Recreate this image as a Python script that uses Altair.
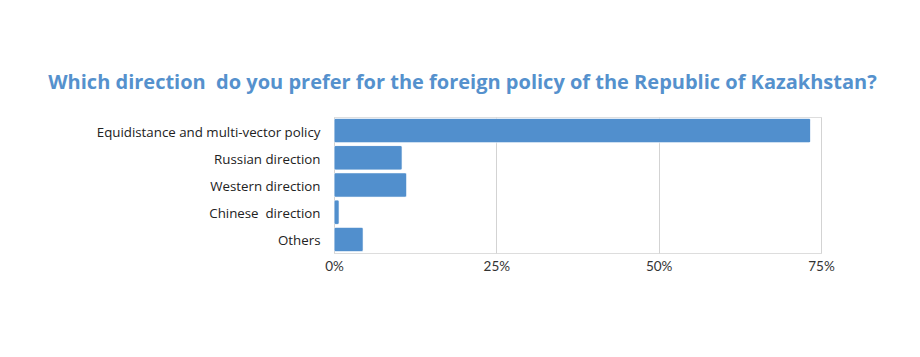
import altair as alt
import pandas as pd

categories = [
    "Equidistance and multi-vector policy",
    "Russian direction\u00a0",
    "Western direction",
    "Chinese \u00a0direction",
    "Others",
]
shares = [73.4, 10.5, 11.2, 0.8, 4.5]
tick_values = [0, 25, 50, 75]
title_text = "Which direction \u00a0do you prefer for the foreign policy of the Republic of Kazakhstan?"

df = pd.DataFrame({"category": categories, "share": shares})

chart = (
    alt.Chart(df, title=alt.TitleParams(
        title_text, font="Open Sans", fontSize=20, fontWeight="bold",
        color="#5591cd", anchor="middle", dx=-115, offset=8, baseline="alphabetic"))
    .mark_bar(color="#518fcd", cornerRadius=2, stroke="white", strokeWidth=0.5)
    .encode(
        x=alt.X("share:Q",
                scale=alt.Scale(domain=[0, 75], nice=False),
                axis=alt.Axis(values=tick_values, labelExpr="datum.value + '%'",
                              title=None, domain=False, ticks=False, labelFlush=False,
                              grid=True, gridColor="#d3d3d3", gridWidth=1,
                              labelFont="Lato", labelFontSize=13.5, labelColor="#333333",
                              labelPadding=6)),
        y=alt.Y("category:N", sort=categories,
                scale=alt.Scale(paddingInner=0.1, paddingOuter=0.05),
                axis=alt.Axis(title=None, domain=False, ticks=False,
                              labelFont="Open Sans", labelFontSize=13.3, labelOffset=2,
                              labelColor="#222222", labelPadding=14, labelLimit=400)),
    )
    .properties(width=487, height=136,
                autosize=alt.AutoSizeParams(type="none"),
                padding={"left": 334, "top": 117, "right": 99, "bottom": 104})
    .configure_view(stroke=None)
    .configure(background="white")
)

chart.save("out.html", embed_options={"renderer": "svg", "actions": False})
